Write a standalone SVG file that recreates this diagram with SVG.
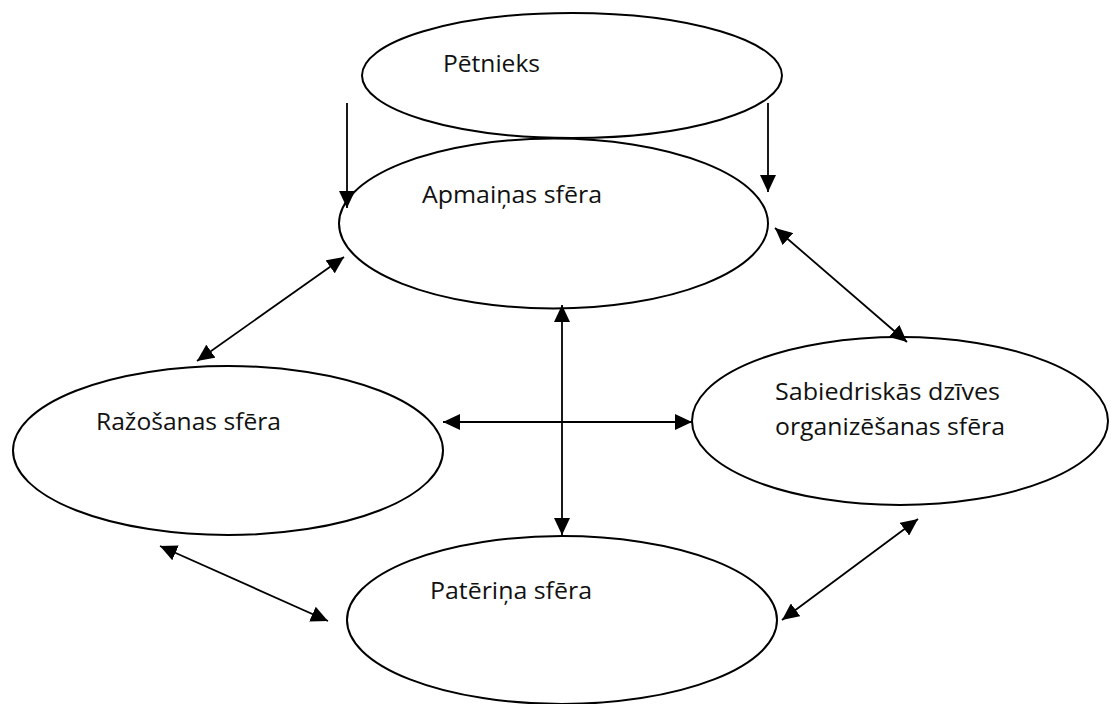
<svg xmlns="http://www.w3.org/2000/svg" width="1111" height="704" viewBox="0 0 1111 704">
<style>
.node ellipse{fill:#fff;stroke:#000;stroke-width:2}
.lbl{font-family:"Open Sans","Noto Sans","Liberation Sans",sans-serif;font-size:24px;fill:#111}
.conn line{stroke:#000;stroke-width:1.8}
</style>
<defs>
<marker id="ah" markerUnits="userSpaceOnUse" markerWidth="18" markerHeight="16" refX="17" refY="8" orient="auto-start-reverse">
<path d="M0,0 L17,8 L0,16 z" fill="#000"/>
</marker>
</defs>
<rect width="1111" height="704" fill="#fff"/>
<g id="petnieks" class="node">
<ellipse cx="572" cy="75.5" rx="210" ry="62.5"/>
<text class="lbl" x="443" y="72" textLength="97" lengthAdjust="spacingAndGlyphs">Pētnieks</text>
</g>
<g id="apmainas" class="node">
<ellipse cx="553.5" cy="223.5" rx="214.5" ry="85"/>
<text class="lbl" x="422" y="203" textLength="180" lengthAdjust="spacingAndGlyphs">Apmaiņas sfēra</text>
</g>
<g id="razosanas" class="node">
<ellipse cx="228" cy="450.5" rx="215" ry="84.5"/>
<text class="lbl" x="96" y="430" textLength="185" lengthAdjust="spacingAndGlyphs">Ražošanas sfēra</text>
</g>
<g id="sabiedriskas" class="node">
<ellipse cx="900" cy="421" rx="208" ry="84"/>
<text class="lbl" x="775" y="400" textLength="225" lengthAdjust="spacingAndGlyphs">Sabiedriskās dzīves</text>
<text class="lbl" x="775" y="435" textLength="230" lengthAdjust="spacingAndGlyphs">organizēšanas sfēra</text>
</g>
<g id="paterina" class="node">
<ellipse cx="562" cy="620" rx="215" ry="84"/>
<text class="lbl" x="430" y="599" textLength="162" lengthAdjust="spacingAndGlyphs">Patēriņa sfēra</text>
</g>
<g id="connectors" class="conn">
<line x1="347" y1="103" x2="347" y2="208" marker-end="url(#ah)"/>
<line x1="768" y1="103" x2="768" y2="192" marker-end="url(#ah)"/>
<line x1="197" y1="361" x2="344" y2="257" marker-start="url(#ah)" marker-end="url(#ah)"/>
<line x1="443" y1="422" x2="692" y2="422" marker-start="url(#ah)" marker-end="url(#ah)"/>
<line x1="562" y1="305" x2="562" y2="535" marker-start="url(#ah)" marker-end="url(#ah)"/>
<line x1="775" y1="228" x2="907" y2="342" marker-start="url(#ah)" marker-end="url(#ah)"/>
<line x1="160" y1="546" x2="328" y2="621" marker-start="url(#ah)" marker-end="url(#ah)"/>
<line x1="782" y1="620" x2="918" y2="519" marker-start="url(#ah)" marker-end="url(#ah)"/>
</g>
</svg>
